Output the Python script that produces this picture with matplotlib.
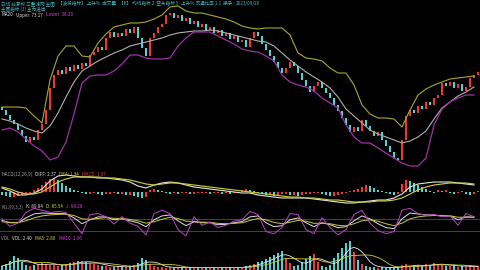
import matplotlib
matplotlib.use("Agg")
import matplotlib.pyplot as plt
import numpy as np
import pandas as pd

plt.rcParams['font.family'] = ['Noto Sans CJK SC', 'DejaVu Sans']

# ---- price (close) per bar ----
closes = [60, 55, 50, 46, 40, 34, 28, 33, 30, 40,
          46, 60, 82, 95, 100, 96, 103, 99, 105, 101,
          107, 104, 115, 118, 123, 120, 132, 138, 133, 137,
          134, 141, 137, 143, 132, 122, 114, 132, 137, 143,
          146, 155, 157, 152, 155, 149, 152, 146, 149, 143,
          146, 140, 143, 137, 140, 134, 137, 131, 134, 128,
          130, 123, 132, 138, 134, 126, 120, 114, 108, 102,
          97, 102, 108, 104, 97, 90, 84, 78, 84, 88,
          82, 77, 72, 65, 59, 52, 45, 38, 43, 39,
          50, 44, 39, 34, 38, 30, 24, 18, 12, 10,
          30, 54, 60, 57, 64, 61, 68, 65, 72, 75,
          87, 84, 88, 82, 86, 79, 83, 92, 95, 98]
first_open = 63

# ---- Bollinger bands (every 2nd bar) ----
band_idx = list(range(0, 120, 2))
boll_upper = [63, 63, 63, 62, 54, 47, 90, 114, 124, 124,
              114, 113, 127, 136, 143, 145, 147, 147, 148, 151,
              155, 163, 164, 159, 157, 157, 155, 153, 151, 148,
              144, 142, 141, 142, 142, 142, 135, 117, 112, 111,
              109, 102, 97, 97, 85, 65, 56, 52, 52, 51,
              43, 60, 75, 81, 85, 88, 91, 92, 93, 94]
boll_mid = [51, 49, 46, 42, 39, 37, 44, 57, 73, 88,
            99, 104, 109, 113, 117, 120, 124, 126, 128, 130,
            132, 135, 137, 138, 139, 139, 140, 139, 137, 135,
            133, 131, 129, 128, 124, 117, 110, 104, 98, 93,
            88, 82, 73, 61, 54, 47, 40, 36, 33, 30,
            27, 29, 33, 39, 51, 62, 68, 74, 78, 83]
boll_lower = [40, 42, 38, 31, 24, 19, 10, 13, 28, 56,
              87, 94, 95, 95, 99, 106, 115, 115, 112, 111,
              111, 112, 124, 132, 138, 138, 138, 134, 130, 126,
              121, 119, 118, 114, 109, 95, 88, 85, 83, 79,
              72, 67, 62, 45, 33, 27, 27, 22, 17, 12,
              7, 4, 4, 12, 45, 61, 68, 72, 75, 75]

# ---- MACD ----
macd_dif = [0.4, 0.1, -0.3, -0.3, -0.1, 0.3, 1.1, 1.6, 1.7, 1.6,
            1.5, 1.5, 1.4, 1.4, 1.3, 1.2, 1.0, 0.6, 0.4, 0.7,
            0.9, 1.0, 0.9, 0.7, 0.5, 0.4, 0.3, 0.2, 0.1, 0.0,
            -0.1, -0.1, -0.3, -0.4, -0.5, -0.6, -0.6, -0.6, -0.6, -0.7,
            -0.8, -0.9, -1.0, -1.1, -1.1, -1.0, -0.9, -0.8, -0.8, -0.6,
            -0.2, 0.5, 0.8, 0.9, 1.0, 1.0, 1.0, 0.9, 0.8, 0.7]
macd_dea = [0.5, 0.3, 0.0, -0.2, -0.2, 0.0, 0.5, 1.0, 1.3, 1.5,
            1.5, 1.5, 1.5, 1.4, 1.4, 1.3, 1.2, 1.0, 0.8, 0.7,
            0.8, 0.9, 0.9, 0.8, 0.7, 0.6, 0.5, 0.4, 0.3, 0.2,
            0.1, 0.0, -0.1, -0.2, -0.3, -0.4, -0.5, -0.5, -0.6, -0.6,
            -0.7, -0.8, -0.8, -0.9, -1.0, -1.0, -1.0, -0.9, -0.9, -0.8,
            -0.6, -0.2, 0.2, 0.5, 0.7, 0.8, 0.9, 0.9, 0.9, 0.8]
macd_hist = [-0.3, -0.4, -0.5, -0.5, -0.4, -0.3, -0.2, -0.1,
             0.2, 0.4, 0.7, 1.0, 1.3, 1.4,
             1.2, 0.9, 0.6, 0.4, 0.2, 0.1,
             -0.1, -0.2, -0.2, -0.1, -0.2, -0.3, -0.2, -0.2, -0.1, -0.2,
             -0.2, -0.3, -0.3, -0.4, -0.5, -0.6, -0.5,
             0.2, 0.3, 0.2, 0.1,
             -0.1, -0.2, -0.1, -0.2, -0.1, -0.1, -0.2, -0.2, -0.1, -0.1,
             -0.1, -0.2, -0.1, -0.1, -0.2, -0.1, -0.2, -0.1, -0.1,
             0.2, 0.3, 0.2, 0.1,
             -0.1, -0.2, -0.3, -0.3, -0.4, -0.3, -0.2, -0.2, -0.3, -0.3, -0.4, -0.3, -0.2, -0.2, -0.1, -0.1,
             -0.2, -0.3, -0.4, -0.4, -0.3,
             -0.2, -0.1, 0.1, 0.2, 0.3,
             0.5, 0.7, 0.6, 0.4,
             0.2, 0.1, -0.1, -0.2, -0.3, -0.2,
             0.8, 1.2, 1.1, 0.9, 0.7, 0.5, 0.3,
             0.1, -0.1, 0.2, 0.1, 0.2, -0.1, -0.2, -0.1, 0.1, -0.2, -0.3, -0.2, 0.1]

# ---- KDJ ----
kdj_k = [72, 60, 60, 85, 105, 110, 108, 108, 106, 85,
         55, 75, 90, 90, 75, 80, 70, 60, 40, 75,
         95, 100, 70, 45, 65, 60, 60, 50, 52, 60,
         66, 90, 95, 60, 40, 45, 75, 85, 60, 40,
         60, 50, 35, 40, 70, 95, 80, 55, 35, 30,
         80, 110, 105, 100, 100, 95, 95, 75, 90, 88]
kdj_d = [65, 62, 61, 70, 85, 95, 100, 103, 104, 97,
         80, 78, 82, 86, 83, 82, 77, 70, 58, 65,
         78, 88, 82, 68, 66, 63, 62, 57, 55, 57,
         60, 72, 82, 75, 62, 55, 63, 72, 68, 57,
         58, 55, 47, 44, 55, 70, 75, 68, 55, 45,
         58, 80, 90, 95, 97, 96, 96, 88, 89, 89]
kdj_j = [80, 42, 58, 113, 134, 124, 113, 118, 113, 58,
         4, 102, 107, 91, 53, 91, 58, 42, -2, 107,
         124, 107, 25, -7, 91, 47, 64, 36, 47, 69,
         75, 118, 102, 15, 4, 36, 107, 102, 25, 4,
         86, 36, -2, 25, 102, 124, 58, 20, 4, 15,
         124, 134, 107, 97, 102, 91, 97, 47, 107, 91]

# ---- Volume ----
volume = [4, 6, 9, 14, 12, 8, 5, 4,
          5, 6, 7, 6, 5, 5, 4,
          5, 6, 7, 8, 9, 9, 8, 7, 6, 5, 4,
          4, 3, 3, 4, 3, 3, 4, 5, 7,
          12, 10, 6,
          4, 3, 3, 2, 3, 2, 3, 2, 2, 3, 2, 3, 2, 2, 3, 2, 3, 2, 2, 3, 2, 3, 3,
          4, 5, 6, 8, 9, 11, 13, 15, 17, 19,
          12, 7, 4,
          5, 8, 11, 14, 16, 8,
          4, 3, 5,
          12, 17, 22, 27, 29, 18,
          10, 6, 4, 3,
          3, 2, 3, 2, 3, 2, 3,
          5, 6, 4, 4, 5, 4, 6, 5, 7, 6, 5, 4, 4, 5, 3, 4, 3, 4, 3, 4]

RED = '#ff3030'
CYAN = '#40d8d8'
BG = '#000000'

n = len(closes)
idx = np.arange(n)
opens = [first_open] + closes[:-1]
up = [c >= o for c, o in zip(closes, opens)]

fig = plt.figure(figsize=(4.8, 2.7), dpi=100, facecolor=BG)
H = 270.0

def mk(top, bottom):
    ax = fig.add_axes([0, 1 - bottom / H, 1, (bottom - top) / H])
    ax.set_facecolor('none')
    ax.axis('off')
    ax.set_xlim(-0.5, n - 0.5)
    return ax

# main
ax = mk(0, 170)
ax.set_ylim(0, 170)
ax.plot(band_idx, boll_upper, color='#a8a830', lw=0.8)
ax.plot(band_idx, boll_mid, color='#b0b0b0', lw=0.8)
ax.plot(band_idx, boll_lower, color='#a030a8', lw=0.9)
for i in range(n):
    col = RED if up[i] else CYAN
    lo, hi = min(opens[i], closes[i]), max(opens[i], closes[i])
    ax.bar(i, max(hi - lo, 1.2), bottom=lo, width=0.35, color=col, linewidth=0)

# MACD
axm = mk(170, 205)
axm.set_ylim(-1.3, 2.2)
hcols = []
prev = 0
for v in macd_hist:
    hcols.append(RED if v >= prev else CYAN)
    prev = v
axm.bar(idx, macd_hist, width=0.45, color=hcols, linewidth=0)
axm.plot(band_idx, macd_dif, color='#e8e8d0', lw=0.8)
axm.plot(band_idx, macd_dea, color='#d0d040', lw=0.8)

# KDJ
axk = mk(205, 240)
axk.set_ylim(-28.2, 150.9)
for lvl in (80, 20):
    axk.axhline(lvl, color='#606060', lw=0.5)
axk.plot(band_idx, kdj_k, color='#e0e0e0', lw=0.7)
axk.plot(band_idx, kdj_d, color='#c8c840', lw=0.7)
axk.plot(band_idx, kdj_j, color='#c040c8', lw=0.7)

# Volume
axv = mk(240, 270)
axv.set_ylim(0, 30)
vcols = [RED if u else CYAN for u in up]
axv.bar(idx, volume, width=0.45, color=vcols, linewidth=0)
vs = pd.Series(volume, dtype=float)
axv.plot(idx, vs.rolling(5, min_periods=1).mean(), color='#e8e8e8', lw=0.6)
axv.plot(idx, vs.rolling(10, min_periods=1).mean(), color='#d0d040', lw=0.6)

# texts, chained left to right
renderer = fig.canvas.get_renderer()

def line(ypx, pieces, x0=1, fs=3.3, gap=3):
    xpx = x0
    for s, c in pieces:
        tx = fig.text(xpx / 480, 1 - ypx / H, s, color=c, fontsize=fs,
                      va='center', ha='left')
        w = tx.get_window_extent(renderer).width
        xpx += w + gap

line(3.5, [("日线 前复权 三重滤网 主图", '#40b8c0'),
           ("【波段指标】 上升%  成交量", '#40b8c0'),
           ("【K】 均线指标 2  空头指标 5", '#40b8c0'),
           ("上升% 流通比率 1.1  换手", '#40b8c0'),
           ("2023/09/20", '#40b8c0')])
line(9, [("主图指标 (1) 主力进出", '#40b8c0')])
line(15, [("MA20", '#e0e0e0'), ("Upper: 73.17", '#e0e0e0'),
          ("Lower: 38.29", '#e040e0')])
line(174, [("MACD(12,26,9)", '#a0a0a0'), ("DIFF: 2.37", '#e0e0e0'),
           ("DEA: 1.34", '#d0d040'), ("MACD: 1.07", '#e03050')])
line(207, [("KDJ(9,3,3)", '#a0a0a0'), ("K: 89.84", '#e0e0e0'),
           ("D: 85.54", '#d0d040'), ("J: 98.28", '#e040e0')])
line(238, [("VOL", '#a0a0a0'), ("VOL: 2.40", '#e0e0e0'),
           ("MA5: 2.80", '#d0d040'), ("MA10: 1.96", '#e040e0')])

fig.savefig('out.png', dpi=100, facecolor=BG)
